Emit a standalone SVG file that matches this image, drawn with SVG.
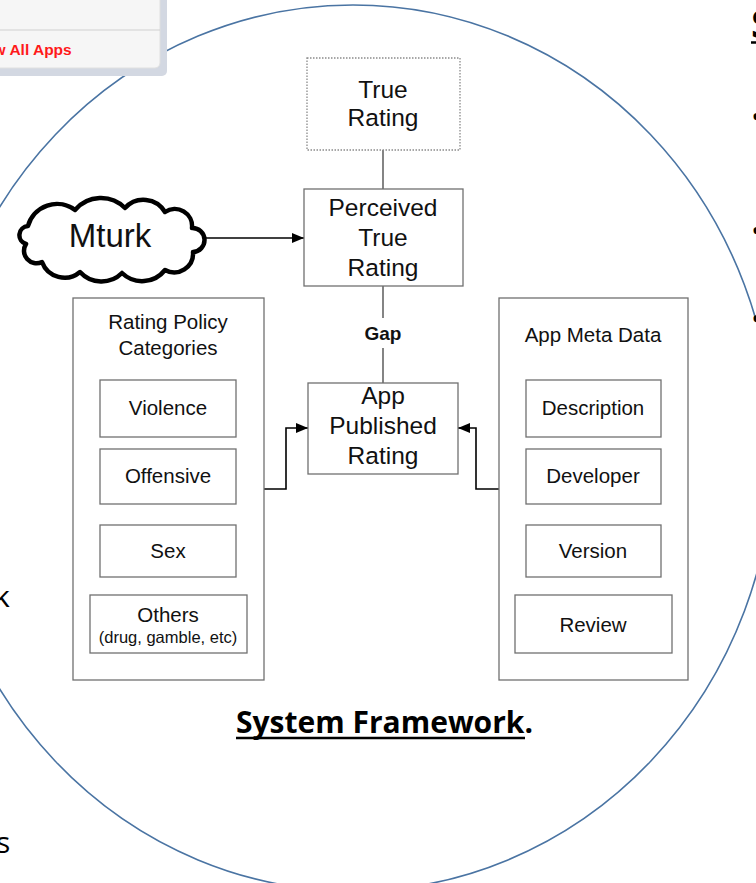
<svg xmlns="http://www.w3.org/2000/svg" width="756" height="883" viewBox="0 0 756 883">
<defs>
<style>
.box{fill:#fff;stroke:#707070;stroke-width:1.3}
.dot{fill:#fff;stroke:#8a8a8a;stroke-width:1.3;stroke-dasharray:1.5 1.5}
.t{font-family:"Liberation Sans",Arial,sans-serif;fill:#111;text-anchor:middle}
.n{font-size:24.5px}
.p{font-size:20.5px}
.s{font-size:16.5px}
.c{font-family:"Open Sans","Liberation Sans",sans-serif;fill:#000}
.ln{stroke:#333;stroke-width:1.2;fill:none}
.ar{stroke:#000;stroke-width:1.6;fill:none}
</style>
<marker id="ah" viewBox="0 0 12 10" refX="12" refY="5" markerWidth="12" markerHeight="10" markerUnits="userSpaceOnUse" orient="auto">
<path d="M0,0 L12,5 L0,10 z" fill="#000"/>
</marker>
</defs>
<rect width="756" height="883" fill="#fff"/>

<g id="circle">
<ellipse cx="353" cy="448" rx="421" ry="443" fill="none" stroke="#4a74a3" stroke-width="1.6"/>
</g>

<g id="phone-panel">
<rect x="-10" y="-10" width="177" height="86" rx="5" fill="#d3d8e2"/>
<rect x="-10" y="-10" width="170" height="78" rx="5" fill="#f6f6f6" stroke="#e0e0e0" stroke-width="1"/>
<line x1="-10" y1="30" x2="160" y2="30" stroke="#d0d0d0" stroke-width="1.2"/>
<text x="-6.4" y="55" font-family="Liberation Sans,Arial,sans-serif" font-weight="bold" font-size="15.5" fill="#ff1a1a">w All Apps</text>
</g>

<g id="side-text" class="c">
<text x="751" y="38" font-size="40" font-weight="bold">S</text>
<line x1="751" y1="42.5" x2="756" y2="42.5" stroke="#000" stroke-width="2.5"/>
<text x="751" y="127" font-size="30">•</text>
<text x="751" y="241" font-size="30">•</text>
<text x="751" y="329" font-size="30">•</text>
<text x="-6" y="607" font-size="30">k</text>
<text x="-4" y="853" font-size="30">s</text>
</g>

<g id="connectors">
<line class="ln" x1="383" y1="150" x2="383" y2="189"/>
<line class="ln" x1="383" y1="286" x2="383" y2="318"/>
<line class="ln" x1="383" y1="348" x2="383" y2="383"/>
<text class="t" x="383" y="340" font-size="19" font-weight="bold">Gap</text>
<line class="ar" x1="205" y1="238" x2="304" y2="238" marker-end="url(#ah)"/>
<polyline class="ar" points="264,489 286,489 286,428 308,428" marker-end="url(#ah)"/>
<polyline class="ar" points="499,489 476,489 476,428 458,428" marker-end="url(#ah)"/>
</g>

<g id="mturk">
<path d="M28,226 A30,30 0 0 1 75,210 A34,34 0 0 1 125,208 A25,25 0 0 1 165,212 A17.3,17.3 0 0 1 192,228 A12,12 0 0 1 193,252 A18.9,18.9 0 0 1 165,270 A29,29 0 0 1 122,273 A29,29 0 0 1 80,272 A24,24 0 0 1 42,262 A12.5,12.5 0 0 1 26,244 A9.2,9.2 0 0 1 28,226 Z" fill="#fff" stroke="#000" stroke-width="4.5" stroke-linejoin="round"/>
<text class="t" x="110" y="247" font-size="33">Mturk</text>
</g>

<g id="true-rating">
<rect class="dot" x="307" y="58" width="153" height="92"/>
<text class="t n" x="383" y="98">True</text>
<text class="t n" x="383" y="126">Rating</text>
</g>

<g id="perceived">
<rect class="box" x="304" y="189" width="159" height="97"/>
<text class="t n" x="383" y="216">Perceived</text>
<text class="t n" x="383" y="246">True</text>
<text class="t n" x="383" y="276">Rating</text>
</g>

<g id="published">
<rect class="box" x="308" y="383" width="150" height="91"/>
<text class="t n" x="383" y="404">App</text>
<text class="t n" x="383" y="434">Published</text>
<text class="t n" x="383" y="464">Rating</text>
</g>

<g id="policy">
<rect class="box" x="73" y="298" width="191" height="382"/>
<text class="t p" x="168" y="329">Rating Policy</text>
<text class="t p" x="168" y="355">Categories</text>
<g id="violence"><rect class="box" x="100" y="380" width="136" height="57"/><text class="t p" x="168" y="415">Violence</text></g>
<g id="offensive"><rect class="box" x="100" y="449" width="136" height="55"/><text class="t p" x="168" y="483">Offensive</text></g>
<g id="sex"><rect class="box" x="100" y="525" width="136" height="52"/><text class="t p" x="168" y="558">Sex</text></g>
<g id="others"><rect class="box" x="90" y="595" width="157" height="58"/><text class="t p" x="168" y="622">Others</text><text class="t s" x="168" y="643">(drug, gamble, etc)</text></g>
</g>

<g id="meta">
<rect class="box" x="499" y="298" width="189" height="382"/>
<text class="t p" x="593" y="342">App Meta Data</text>
<g id="description"><rect class="box" x="526" y="380" width="135" height="57"/><text class="t p" x="593" y="415">Description</text></g>
<g id="developer"><rect class="box" x="526" y="449" width="135" height="55"/><text class="t p" x="593" y="483">Developer</text></g>
<g id="version"><rect class="box" x="526" y="525" width="135" height="52"/><text class="t p" x="593" y="558">Version</text></g>
<g id="review"><rect class="box" x="515" y="595" width="157" height="58"/><text class="t p" x="593" y="632">Review</text></g>
</g>

<g id="title" class="c">
<text x="236" y="733" font-size="31" font-weight="bold" textLength="297" lengthAdjust="spacingAndGlyphs">System Framework.</text>
<line x1="236" y1="738" x2="525" y2="738" stroke="#000" stroke-width="2.5"/>
</g>
</svg>
